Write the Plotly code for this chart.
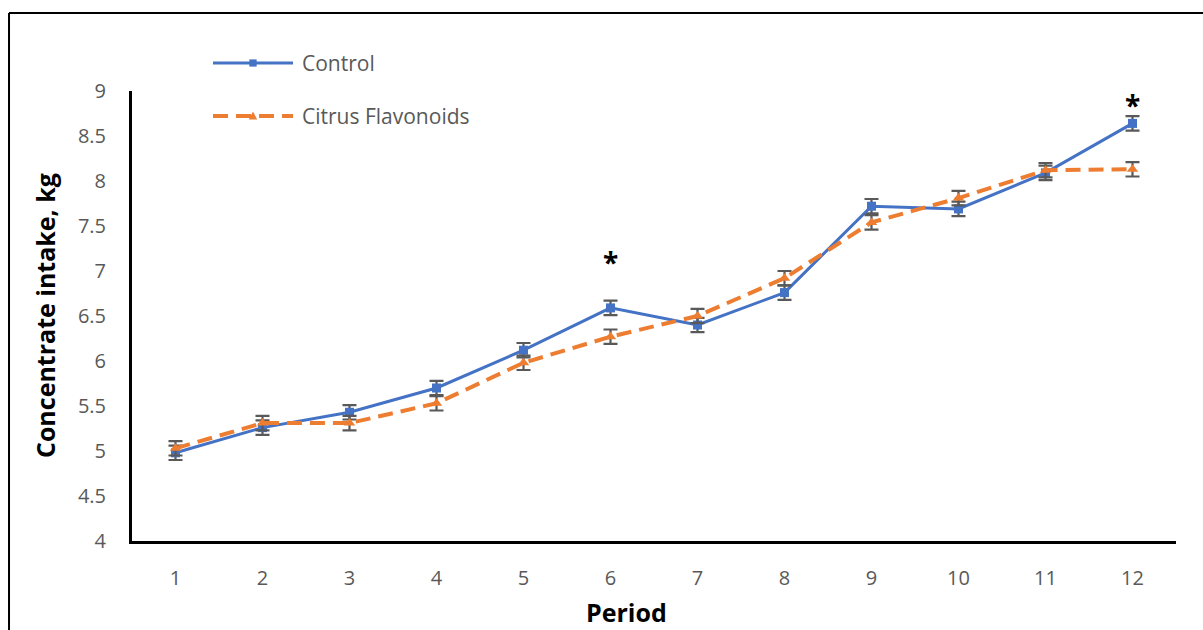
import plotly.graph_objects as go

periods = [1, 2, 3, 4, 5, 6, 7, 8, 9, 10, 11, 12]
control = [4.98, 5.26, 5.43, 5.70, 6.12, 6.59, 6.40, 6.76, 7.72, 7.69, 8.09, 8.64]
control_err = [0.08, 0.08, 0.08, 0.08, 0.08, 0.08, 0.08, 0.08, 0.08, 0.08, 0.08, 0.08]
citrus = [5.03, 5.31, 5.31, 5.53, 5.98, 6.27, 6.50, 6.92, 7.54, 7.81, 8.12, 8.13]
citrus_err = [0.08, 0.08, 0.08, 0.08, 0.08, 0.08, 0.08, 0.08, 0.08, 0.08, 0.08, 0.08]
sig_periods = [6, 12]
sig_y = [7.1, 8.84]
y_ticks = [4, 4.5, 5, 5.5, 6, 6.5, 7, 7.5, 8, 8.5, 9]

BLUE = "#4472C4"
ORANGE = "#ED7D31"
GREY = "#595959"
FONT = "Open Sans"
DASH = "15px,8px"

fig = go.Figure()
fig.add_trace(go.Scatter(
    x=periods, y=control, name="Control", mode="lines+markers",
    line=dict(color=BLUE, width=3),
    marker=dict(symbol="square", size=9, color=BLUE),
    error_y=dict(type="data", array=control_err, color=GREY, thickness=2.2, width=7),
    showlegend=False,
))
fig.add_trace(go.Scatter(
    x=periods, y=citrus, name="Citrus Flavonoids", mode="lines+markers",
    line=dict(color=ORANGE, width=4, dash=DASH),
    marker=dict(symbol="triangle-up", size=10, color=ORANGE),
    error_y=dict(type="data", array=citrus_err, color=GREY, thickness=2.2, width=7),
    showlegend=False,
))

annotations = []
for p, yv in zip(sig_periods, sig_y):
    annotations.append(dict(x=p, y=yv, xref="x", yref="y", text="<b>*</b>",
                            showarrow=False, font=dict(family=FONT, size=28, color="black")))

# axis titles
annotations.append(dict(x=-0.0833, y=0.5, xref="paper", yref="paper", text="<b>Concentrate intake, kg</b>",
                        textangle=-90, xanchor="center", yanchor="middle", showarrow=False,
                        font=dict(family=FONT, size=25, color="black")))
annotations.append(dict(x=0.4732, y=-0.1578, xref="paper", yref="paper", text="<b>Period</b>",
                        xanchor="center", yanchor="middle", showarrow=False,
                        font=dict(family=FONT, size=25, color="black")))

# manual legend
shapes = []
leg = [("Control", BLUE, "solid", 3, 1.0622), ("Citrus Flavonoids", ORANGE, DASH, 4, 0.9444)]
for name, col, dash, w, ly in leg:
    shapes.append(dict(type="line", xref="paper", yref="paper", x0=0.0776, x1=0.1542, y0=ly, y1=ly,
                       line=dict(color=col, width=w, dash=dash)))
    annotations.append(dict(x=0.1609, y=ly, xref="paper", yref="paper", text=name, xanchor="left",
                            yanchor="middle", showarrow=False, font=dict(family=FONT, size=21, color=GREY)))
# legend markers
mx = 0.1159
shapes.append(dict(type="rect", xref="paper", yref="paper", x0=mx - 0.0035, x1=mx + 0.0035,
                   y0=1.0622 - 0.008, y1=1.0622 + 0.008, fillcolor=BLUE, line=dict(width=0)))
shapes.append(dict(type="path", xref="paper", yref="paper",
                   path=f"M {mx-0.004} {0.9444-0.008} L {mx+0.004} {0.9444-0.008} L {mx} {0.9444+0.010} Z",
                   fillcolor=ORANGE, line=dict(width=0)))

# outer frame (left and top edges)
shapes.append(dict(type="line", xref="paper", yref="paper", x0=-0.1178, x1=1.03, y0=1.1733, y1=1.1733,
                   line=dict(color="black", width=2)))
shapes.append(dict(type="line", xref="paper", yref="paper", x0=-0.1178, x1=-0.1178, y0=1.1733, y1=-0.21,
                   line=dict(color="black", width=2)))

fig.update_layout(
    width=1203, height=630,
    margin=dict(l=132, r=27, t=91, b=89),
    paper_bgcolor="white", plot_bgcolor="white",
    font=dict(family=FONT, size=20, color=GREY),
    annotations=annotations, shapes=shapes,
    showlegend=False,
)
fig.update_xaxes(range=[0.5, 12.5], tickvals=periods, showgrid=False, zeroline=False,
                 showline=True, linecolor="black", linewidth=3, ticks="", ticklabelstandoff=17,
                 tickfont=dict(family=FONT, size=20, color=GREY))
fig.update_yaxes(range=[4, 9], tickvals=y_ticks, ticktext=[f"{v:g}" for v in y_ticks],
                 showgrid=False, zeroline=False,
                 showline=True, linecolor="black", linewidth=3, ticks="", ticklabelstandoff=19,
                 tickfont=dict(family=FONT, size=20, color=GREY))

fig.write_html("out.html", config={"displayModeBar": False},
               post_script="document.body.style.margin='0px';document.body.style.overflow='hidden';")
